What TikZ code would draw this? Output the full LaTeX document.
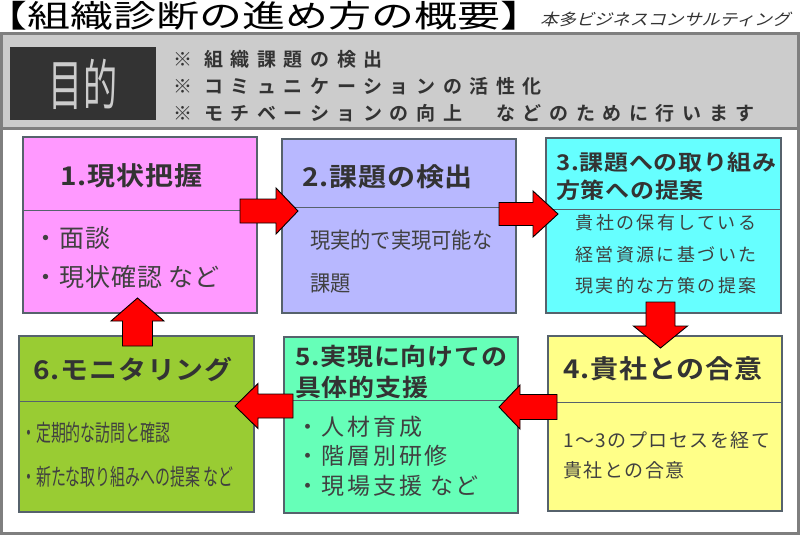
\documentclass[tikz,border=0pt]{standalone}
\usepackage{fontspec}
\setmainfont{Noto Sans CJK JP}[BoldFont={Noto Sans CJK JP Bold}]
\newfontfamily\slfont{Noto Sans CJK JP}[FakeSlant=0.25]
\usetikzlibrary{calc}
\definecolor{framegray}{HTML}{7F7F7F}
\definecolor{bannergray}{HTML}{CCCCCC}
\definecolor{darkbox}{HTML}{333333}
\definecolor{txt}{HTML}{333333}
\definecolor{bodytxt}{HTML}{404040}
\definecolor{boxline}{HTML}{56626C}
\definecolor{cA}{HTML}{FF99FF}
\definecolor{cB}{HTML}{B8B8FF}
\definecolor{cC}{HTML}{66FFFF}
\definecolor{cD}{HTML}{FFFF88}
\definecolor{cE}{HTML}{66FFB8}
\definecolor{cF}{HTML}{99CC33}
\definecolor{arrred}{HTML}{FF0000}
\tikzset{
  box/.style={draw=boxline, line width=1.6pt, inner sep=0pt},
  divider/.style={draw=boxline, line width=1pt},
  arr/.style={fill=arrred, draw=black, line width=0.9pt, line join=miter},
  ttl/.style={text=txt, anchor=west, inner sep=0pt, align=left},
  bdy/.style={text=bodytxt, anchor=west, inner sep=0pt, align=left},
}
\newcommand\barrow[6]{%
  \begin{scope}[shift={(#1)},rotate=#2]
    \draw[arr] (0,-#5) -- ({#3-#4},-#5) -- ({#3-#4},-#6) -- (#3,0) -- ({#3-#4},#6) -- ({#3-#4},#5) -- (0,#5) -- cycle;
  \end{scope}}
\begin{document}
\begin{tikzpicture}[x=1pt,y=-1pt]
\useasboundingbox (0,0) rectangle (800,535);
% title
\node[anchor=west, inner sep=0pt, text=black, xscale=1.387, font=\fontsize{31}{33}\selectfont] (title) at (-16,15.5) {【組織診断の進め方の概要】};
\node[anchor=west, inner sep=0pt, text=txt, xscale=1.12, font=\slfont\fontsize{16}{18}\selectfont] (sub) at (540,19.5) {本多ビジネスコンサルティング};
% frame and banner
\fill[bannergray] (2,34) rectangle (798,127);
\draw[framegray, line width=3pt] (1.5,33.5) rectangle (798.5,533.5);
\draw[framegray, line width=3pt] (1.5,128) -- (798.5,128);
\node[fill=darkbox, minimum width=146, minimum height=73, inner sep=0pt] (goalbox) at (83,83.5) {};
\node[text=bannergray, xscale=0.62, inner sep=0pt, font=\fontsize{55}{57}\selectfont] (goal) at (83,84) {目的};
\node[ttl, font=\bfseries\fontsize{19}{27}\selectfont\addfontfeature{LetterSpace=40}] (aims) at (173,86.5) {※ 組織課題の検出\\※ コミュニケーションの活性化\\※ モチベーションの向上　などのために行います};
% boxes
\node[box, fill=cA, minimum width=234, minimum height=176] (b1) at (140,225) {};
\node[box, fill=cB, minimum width=234, minimum height=174] (b2) at (399,226) {};
\node[box, fill=cC, minimum width=235, minimum height=175] (b3) at (663.5,225.5) {};
\node[box, fill=cD, minimum width=234, minimum height=175] (b4) at (665,423.5) {};
\node[box, fill=cE, minimum width=234, minimum height=176] (b5) at (401,425) {};
\node[box, fill=cF, minimum width=235, minimum height=176] (b6) at (136.5,424) {};
\draw[divider] (b1.west |- 0,210) -- (b1.east |- 0,210);
\draw[divider] (b2.west |- 0,207) -- (b2.east |- 0,207);
\draw[divider] (b3.west |- 0,209) -- (b3.east |- 0,209);
\draw[divider] (b4.west |- 0,402) -- (b4.east |- 0,402);
\draw[divider] (b5.west |- 0,400) -- (b5.east |- 0,400);
\draw[divider] (b6.west |- 0,401) -- (b6.east |- 0,401);
% arrows
\coordinate (t12) at (240,211);
\coordinate (t23) at (499,214);
\coordinate (t34) at (660.5,302);
\coordinate (t45) at (557,407);
\coordinate (t56) at (293,406);
\coordinate (t61) at (137.5,346);
\barrow{t12}{0}{58}{22}{12}{23}
\barrow{t23}{0}{59}{25}{11.5}{23}
\barrow{t34}{-90}{46}{22}{14.5}{27}
\barrow{t45}{180}{58}{21}{12.5}{22}
\barrow{t56}{180}{58}{23}{12}{22.5}
\barrow{t61}{90}{48}{23}{15}{26.5}
% box texts
\node[ttl, yscale=0.92, font=\bfseries\fontsize{28}{30}\selectfont\addfontfeature{LetterSpace=3}] (h1) at (60,176) {1.現状把握};
\node[bdy, font=\fontsize{25}{39}\selectfont\addfontfeature{LetterSpace=4}] (d1) at (33,257.5) {・面談\\・現状確認 など};
\node[ttl, yscale=0.92, font=\bfseries\fontsize{28}{30}\selectfont\addfontfeature{LetterSpace=3}] (h2) at (302,177) {2.課題の検出};
\node[bdy, xscale=0.92, font=\fontsize{22}{43}\selectfont] (d2) at (310,261.5) {現実的で実現可能な\\課題};
\node[ttl, yscale=0.9, font=\bfseries\fontsize{24}{31}\selectfont\addfontfeature{LetterSpace=3}] (h3) at (556,176) {3.課題への取り組み\\方策への提案};
\node[text=bodytxt, inner sep=0pt, align=center, font=\fontsize{18}{31.5}\selectfont\addfontfeature{LetterSpace=13}] (d3) at (666,254.5) {貴社の保有している\\経営資源に基づいた\\現実的な方策の提案};
\node[ttl, yscale=0.92, font=\bfseries\fontsize{28}{30}\selectfont\addfontfeature{LetterSpace=3}] (h4) at (563,369) {4.貴社との合意};
\node[bdy, font=\fontsize{19}{30}\selectfont\addfontfeature{LetterSpace=8}] (d4) at (563,455) {1～3のプロセスを経て\\貴社との合意};
\node[ttl, yscale=0.92, font=\bfseries\fontsize{26}{34}\selectfont\addfontfeature{LetterSpace=3}] (h5) at (295,372) {5.実現に向けての\\具体的支援};
\node[bdy, font=\fontsize{23}{29.5}\selectfont\addfontfeature{LetterSpace=12}] (d5) at (296,456) {・人材育成\\・階層別研修\\・現場支援 など};
\node[ttl, yscale=0.92, font=\bfseries\fontsize{28}{30}\selectfont\addfontfeature{LetterSpace=3}] (h6) at (33,370) {6.モニタリング};
\node[bdy, xscale=0.65, font=\fontsize{23}{44}\selectfont] (d6) at (21,455) {・定期的な訪問と確認\\・新たな取り組みへの提案 など};
\end{tikzpicture}
\end{document}
